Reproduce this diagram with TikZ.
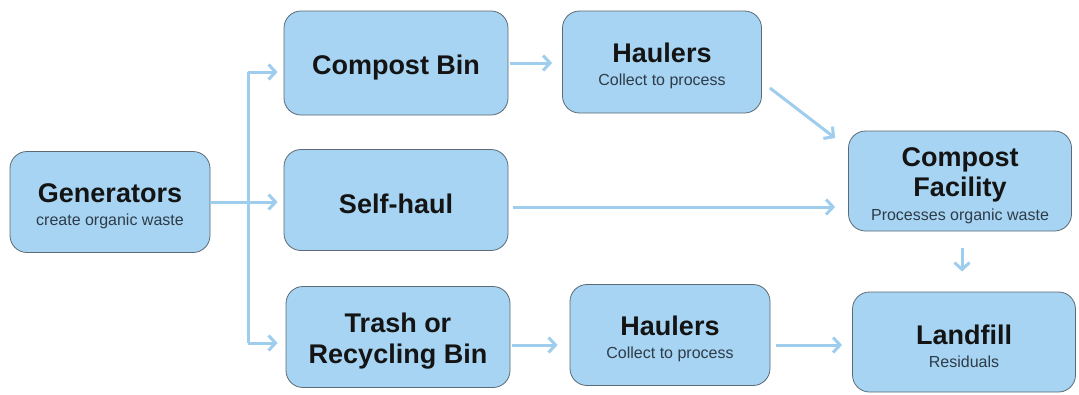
\documentclass[tikz,border=0pt]{standalone}
\usepackage{fontspec}
\setmainfont{Liberation Sans}
\usetikzlibrary{arrows.meta,calc}
\definecolor{boxfill}{HTML}{A6D4F2}
\definecolor{boxline}{HTML}{5C6A75}
\definecolor{arrowc}{HTML}{9FCDEE}
\definecolor{titlec}{HTML}{141414}
\definecolor{subc}{HTML}{2E3B48}
\newcommand{\subf}{\fontsize{16}{19}\selectfont\mdseries\color{subc}}
\newcommand{\tstrut}{\rule{0pt}{28pt}}
\begin{document}
\begin{tikzpicture}[x=1pt,y=-1pt,
  box/.style={draw=boxline, line width=0.8pt, fill=boxfill, rounded corners=17pt,
    inner sep=0pt, align=center, text=titlec,
    font=\fontsize{27}{31}\selectfont\bfseries},
  conn/.style={draw=arrowc, line width=3pt},
  arr/.style={conn, -{Straight Barb[length=7pt,width=15pt]}}]
\useasboundingbox[fill=white] (0,0) rectangle (1079,394);

\node[box, minimum width=200pt, minimum height=101pt] (gen) at (110,202)
  {\tstrut Generators\\[-8pt]{\subf create organic waste}};
\node[box, minimum width=224pt, minimum height=104pt] (cb) at (396,63) {\tstrut Compost Bin};
\node[box, minimum width=199pt, minimum height=102pt] (h1) at (662,62)
  {\tstrut Haulers\\[-8pt]{\subf Collect to process}};
\node[box, minimum width=224pt, minimum height=101pt] (sh) at (396,200) {\tstrut Self-haul};
\node[box, minimum width=224pt, minimum height=101pt] (tr) at (398,337) {\tstrut Trash or\\Recycling Bin};
\node[box, minimum width=200pt, minimum height=101pt] (h2) at (670,335)
  {\tstrut Haulers\\[-8pt]{\subf Collect to process}};
\node[box, minimum width=223pt, minimum height=100pt] (cf) at (960,181)
  {\tstrut Compost\\[-1pt]Facility\\[-7pt]{\subf Processes organic waste}};
\node[box, minimum width=223pt, minimum height=100pt] (lf) at (964,342)
  {\tstrut Landfill\\[-8pt]{\subf Residuals}};

\coordinate (jt) at (248,72);
\coordinate (jb) at (248,343);
\draw[conn] (jt) -- (jb);
\draw[conn] (gen.east) -- (gen.east -| jt);
\draw[arr, shorten >=6pt] (jt) -- (jt -| cb.west);
\draw[arr, shorten >=6pt] (gen.east -| jt) -- (gen.east -| sh.west);
\draw[arr, shorten >=8pt] (jb) -- (jb -| tr.west);

\draw[arr] ($(cb.east)+(2,0)$) -- ($(h1.west)+(-10,1)$);
\draw[arr] ($(h1.east)+(8,26)$) -- ($(cf.west)+(-13,-43)$);
\draw[arr] ($(sh.east)+(5,7)$) -- ($(cf.west)+(-13,26)$);
\draw[arr] ($(tr.east)+(2,8)$) -- ($(h2.west)+(-12,10)$);
\draw[arr] ($(h2.east)+(6,10)$) -- ($(lf.west)+(-10,3)$);
\draw[arr] ($(cf.south)+(2,17)$) -- ($(lf.north)+(-2,-20)$);
\end{tikzpicture}
\end{document}
